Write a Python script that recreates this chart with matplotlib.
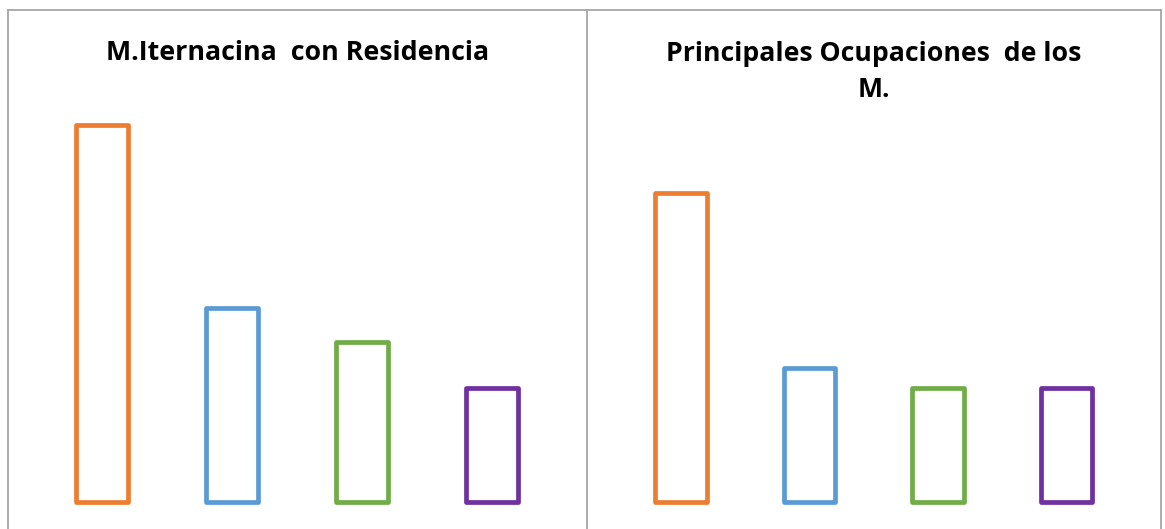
import numpy as np
import matplotlib.pyplot as plt
from matplotlib.lines import Line2D

# data
categorias = ["A", "B", "C", "D"]
residencia = [33, 17, 14, 10]
ocupaciones = [27, 11.7, 10, 10]
colores = ["#ED7D31", "#5B9BD5", "#70AD47", "#7030A0"]

titulo_izq = "M.Iternacina  con Residencia"
titulo_der = "Principales Ocupaciones  de los\nM."

W, H = 1165, 529
fig = plt.figure(figsize=(W / 100, H / 100), dpi=100)

def px_axes(x0, x1, ytop, ybot):
    return fig.add_axes([x0 / W, (H - ybot) / H, (x1 - x0) / W, (ybot - ytop) / H])

def draw_bars(ax, values, width):
    x = np.arange(len(values))
    bars = ax.bar(x, values, width=width, facecolor="white", edgecolor=colores,
                  linewidth=3.4, joinstyle="round")
    for b in bars:
        b.set_clip_on(False)
    ax.set_xlim(-0.5, len(values) - 0.5)
    ax.set_ylim(0, 35)
    ax.axis("off")

ax1 = px_axes(36.5, 556.5, 102, 502)
draw_bars(ax1, residencia, 0.40)

ax2 = px_axes(616.75, 1130.75, 102, 502)
draw_bars(ax2, ocupaciones, 0.40)

fig.text(298 / W, 1 - 53 / H, titulo_izq, ha="center", va="center",
         fontsize=19.3, fontweight="bold", family="Open Sans")
fig.text(874 / W, 1 - 72 / H, titulo_der, ha="center", va="center",
         fontsize=19.2, fontweight="bold", family="Open Sans", linespacing=1.5)

# table borders
gris = "#A6A6A6"
for xs, ys in [((8, 1161), (10, 10)), ((8, 8), (10, 529)),
               ((1161, 1161), (10, 529)), ((587, 587), (10, 529))]:
    fig.add_artist(Line2D([xs[0] / W, xs[1] / W], [1 - ys[0] / H, 1 - ys[1] / H],
                          color=gris, linewidth=1.3))

fig.savefig("out.png", dpi=100)
